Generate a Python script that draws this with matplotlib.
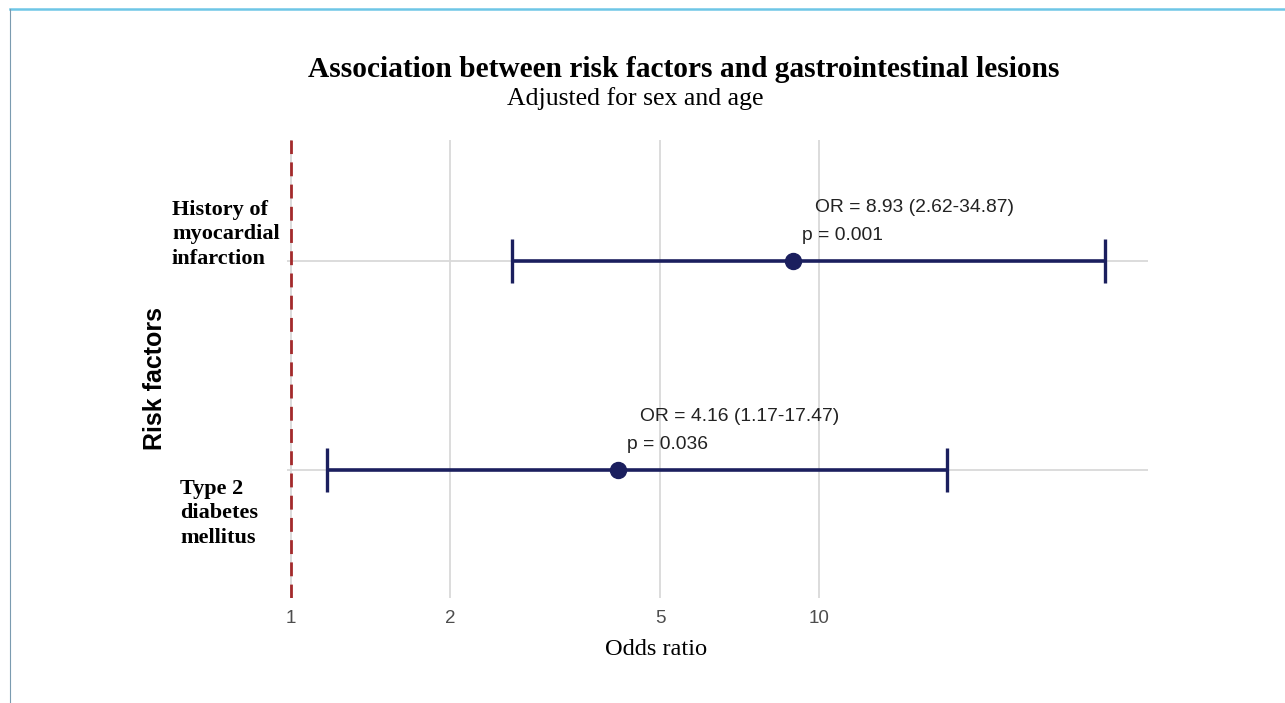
import matplotlib
matplotlib.use("Agg")
import matplotlib.pyplot as plt
from matplotlib.lines import Line2D

# data
factors = ["Type 2\ndiabetes\nmellitus", "History of\nmyocardial\ninfarction"]
odds = [4.16, 8.93]
ci_low = [1.17, 2.62]
ci_high = [17.47, 34.87]
pvals = ["0.036", "0.001"]
xticks = [1, 2, 5, 10]

navy = "#1b1f5e"  # bar colour
red = "#a32a2c"   # reference line
grid = "#d9d9d9"

fig = plt.figure(figsize=(12.85, 7.03), dpi=100)
ax = fig.add_axes([0.2233, 0.1494, 0.6701, 0.6515])

ax.set_xscale("log")
ax.set_xlim(0.983, 42.0)
ax.set_ylim(-0.61, 1.58)

ax.set_xticks(xticks)
ax.set_xticklabels([str(t) for t in xticks])
ax.minorticks_off()
ax.set_yticks([])
ax.tick_params(axis="x", length=0, pad=8.5, labelsize=13.5, labelcolor="#4d4d4d")
for lab in ax.get_xticklabels():
    lab.set_fontfamily("Liberation Sans")

for s in ax.spines.values():
    s.set_visible(False)

for t in xticks:
    ax.axvline(t, color=grid, lw=1.3, zorder=0)
for i in range(len(factors)):
    ax.axhline(i, color=grid, lw=1.3, zorder=0)

ax.axvline(1, color=red, lw=2.0, ls=(0, (5, 3)), zorder=1)

ys = list(range(len(factors)))
xerr = [[o - l for o, l in zip(odds, ci_low)], [h - o for o, h in zip(odds, ci_high)]]
ax.errorbar(odds, ys, xerr=xerr, fmt="o", color=navy, ms=11.5, lw=2.6,
            capsize=15.5, capthick=2.4, zorder=3)

for i in ys:
    ax.annotate("OR = %.2f (%.2f-%.2f)" % (odds[i], ci_low[i], ci_high[i]),
                xy=(odds[i], i), xytext=(15.8, 38.5), textcoords="offset points",
                ha="left", va="center", fontsize=13.9, family="Liberation Sans",
                color="#222222")
    ax.annotate("p = " + pvals[i], xy=(odds[i], i), xytext=(6.8, 18.5),
                textcoords="offset points", ha="left", va="center",
                fontsize=13.9, family="Liberation Sans", color="#222222")

# row labels, placed by hand as in the reference
label_off = [(-77, -31), (-82.8, 19.3)]
for i, name in enumerate(factors):
    ax.annotate(name, xy=(0, i), xycoords=ax.get_yaxis_transform(),
                xytext=label_off[i], textcoords="offset points",
                ha="left", va="center", fontsize=16, fontweight="bold",
                family="Liberation Serif", linespacing=1.32)

fig.text(0.1206, 0.462, "Risk factors", rotation=90, ha="center", va="center",
         fontsize=18, fontweight="bold", family="Liberation Sans")

fig.text(0.532, 0.901, "Association between risk factors and gastrointestinal lesions",
         ha="center", va="center", fontsize=21.2, fontweight="bold",
         family="Liberation Serif")
fig.text(0.494, 0.860, "Adjusted for sex and age", ha="center", va="center",
         fontsize=18.5, family="Liberation Serif")
fig.text(0.5105, 0.0754, "Odds ratio", ha="center", va="center",
         fontsize=17.6, family="Liberation Serif")

# thin frame of the screenshot
fig.add_artist(Line2D([0.0078, 1.0], [0.987, 0.987], color="#6ec6e6", lw=1.8))
fig.add_artist(Line2D([0.0078, 0.0078], [0.0, 0.987], color="#7a9bb0", lw=0.8))

fig.savefig("out.png", dpi=100)
